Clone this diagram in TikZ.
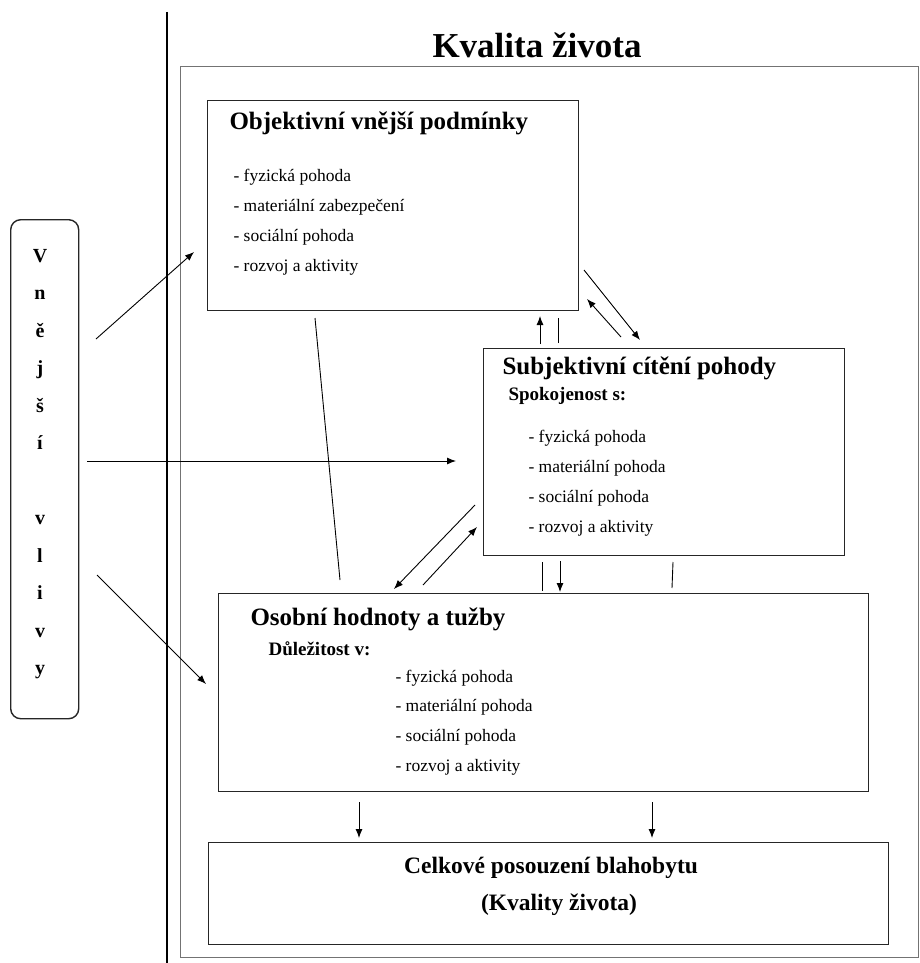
\documentclass[tikz,border=0pt]{standalone}
\usepackage{fontspec}
\setmainfont{Liberation Serif}
\usetikzlibrary{arrows.meta, positioning}

\tikzset{
  box/.style={draw=black!85, line width=1.4pt, anchor=north west, inner sep=0pt},
  frame/.style={draw=black!55, line width=1.2pt, anchor=north west, inner sep=0pt},
  title/.style={anchor=base, font=\bfseries\fontsize{35}{38}\selectfont},
  head/.style={anchor=base west, font=\bfseries\fontsize{25}{28}\selectfont},
  sub/.style={anchor=base west, font=\bfseries\fontsize{19}{22}\selectfont},
  item/.style={anchor=base west, font=\fontsize{17.5}{20}\selectfont},
  letter/.style={anchor=base, font=\bfseries\fontsize{20}{22}\selectfont},
  link/.style={line width=0.9pt, -{Latex[length=9pt,width=7pt]}},
  plain/.style={line width=0.9pt}
}

\begin{document}
\begin{tikzpicture}[x=1pt, y=-1pt]
    \useasboundingbox (0,0) rectangle (920,963);
    \fill[white] (0,0) rectangle (920,963);

    % frame
    \draw[line width=1.5pt] (167,12) -- (167,963);
    \node[title] (kvalita) at (537,58) {Kvalita života};
    \node[frame, minimum width=738, minimum height=891] (ramec) at (180,66) {};

    % boxes
    \node[box, minimum width=371, minimum height=210] (obj) at (207,100) {};
    \node[box, minimum width=361, minimum height=207] (subj) at (483,348) {};
    \node[box, minimum width=650, minimum height=198] (osob) at (218,593) {};
    \node[box, minimum width=680, minimum height=102] (celk) at (208,842) {};
    \node[box, rounded corners=10pt, minimum width=68, minimum height=499] (vlivy) at (10,219) {};

    % Vnější vlivy
    \foreach \c/\k in {V/0, n/1, ě/2, j/3, š/4, í/5, v/7, l/8, i/9, v/10, y/11}
        \node[letter] (vlivy-\k) at (40,262+37.5*\k) {\c};

    % Objektivní vnější podmínky
    \node[head] (obj-title) at (226,129) {Objektivní vnější podmínky};
    \foreach \t [count=\i from 0] in {fyzická pohoda, materiální zabezpečení, sociální pohoda, rozvoj a aktivity}
        \node[item] (obj-\i) at (230,181+30*\i) {- \t};

    % Subjektivní cítění pohody
    \node[head, font=\bfseries\fontsize{25}{28}\selectfont] (subj-title) at (499,374) {Subjektivní cítění pohody};
    \node[sub] (subj-sub) at (505,400) {Spokojenost s:};
    \foreach \t [count=\i from 0] in {fyzická pohoda, materiální pohoda, sociální pohoda, rozvoj a aktivity}
        \node[item] (subj-\i) at (525,442+30*\i) {- \t};

    % Osobní hodnoty a tužby
    \node[head] (osob-title) at (247,625) {Osobní hodnoty a tužby};
    \node[sub] (osob-sub) at (265,655) {Důležitost v:};
    \foreach \t [count=\i from 0] in {fyzická pohoda, materiální pohoda, sociální pohoda, rozvoj a aktivity}
        \node[item] (osob-\i) at (392,682+29.7*\i) {- \t};

    % Celkové posouzení
    \node[head, anchor=base, font=\bfseries\fontsize{23.5}{26}\selectfont] (celk-title) at (551,873) {Celkové posouzení blahobytu};
    \node[head, anchor=base, font=\bfseries\fontsize{23.5}{26}\selectfont] (celk-sub) at (559,910) {(Kvality života)};

    % arrows from outside
    \coordinate (v1) at (96,339);  \coordinate (o1) at (194,252);
    \coordinate (v2) at (87,461);  \coordinate (s1) at (456,461);
    \coordinate (v3) at (97,575);  \coordinate (p1) at (206,684);
    \draw[link] (v1) -- (o1);
    \draw[link] (v2) -- (s1);
    \draw[link] (v3) -- (p1);

    % between obj and subj
    \coordinate (a1) at (315,318); \coordinate (a2) at (340,580);
    \draw[plain] (a1) -- (a2);
    \coordinate (b1) at (540,344); \coordinate (b2) at (540,316);
    \draw[link] (b1) -- (b2);
    \coordinate (c1) at (558,343); \coordinate (c2) at (558,318);
    \draw[plain] (c1) -- (c2);
    \coordinate (d1) at (584,270); \coordinate (d2) at (640,340);
    \draw[link] (d1) -- (d2);
    \coordinate (e1) at (621,337); \coordinate (e2) at (587,299);
    \draw[link] (e1) -- (e2);

    % between subj and osob
    \coordinate (f1) at (475,505); \coordinate (f2) at (394,589);
    \draw[link] (f1) -- (f2);
    \coordinate (g1) at (423,585); \coordinate (g2) at (477,527);
    \draw[link] (g1) -- (g2);
    \coordinate (h1) at (542,562); \coordinate (h2) at (542,591);
    \draw[plain] (h1) -- (h2);
    \coordinate (k1) at (560,561); \coordinate (k2) at (560,592);
    \draw[link] (k1) -- (k2);
    \coordinate (m1) at (673,562); \coordinate (m2) at (672,588);
    \draw[plain] (m1) -- (m2);

    % osob to celk
    \coordinate (n1) at (359,802); \coordinate (n2) at (359,838);
    \draw[link] (n1) -- (n2);
    \coordinate (q1) at (652,802); \coordinate (q2) at (652,838);
    \draw[link] (q1) -- (q2);
\end{tikzpicture}
\end{document}
